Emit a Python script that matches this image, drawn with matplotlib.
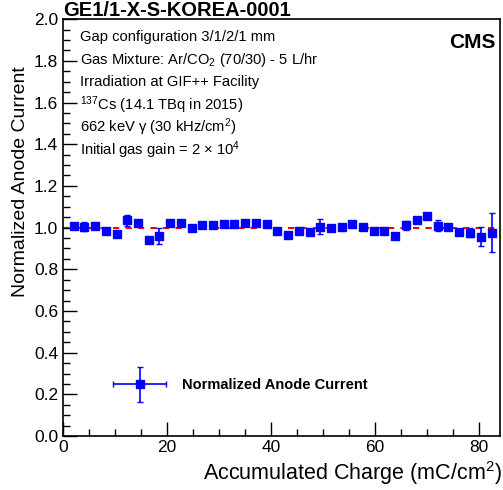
import numpy as np
import matplotlib
matplotlib.use("Agg")
import matplotlib.pyplot as plt
from matplotlib.ticker import MultipleLocator
from matplotlib.container import ErrorbarContainer
from matplotlib.legend_handler import HandlerErrorbar

plt.rcParams['font.family'] = ['Liberation Sans', 'DejaVu Sans']
plt.rcParams['mathtext.fontset'] = 'custom'
plt.rcParams['mathtext.rm'] = 'Liberation Sans'
plt.rcParams['mathtext.it'] = 'Liberation Sans:italic'
plt.rcParams['mathtext.bf'] = 'Liberation Sans:bold'

# accumulated charge (mC/cm2) and normalized current
charge = [2.2, 4.1, 6.2, 8.3, 10.4, 12.4, 14.4, 16.6, 18.5, 20.5,
          22.7, 24.8, 26.7, 28.8, 30.9, 32.9, 35.0, 37.1, 39.2, 41.1,
          43.2, 45.3, 47.4, 49.4, 51.5, 53.6, 55.5, 57.6, 59.7, 61.8,
          63.8, 65.9, 68.0, 69.9, 72.0, 74.1, 76.2, 78.2, 80.3, 82.4]
current = [1.010, 1.005, 1.010, 0.986, 0.970, 1.035, 1.020, 0.940, 0.960, 1.020,
           1.024, 1.000, 1.011, 1.011, 1.016, 1.016, 1.020, 1.024, 1.016, 0.982,
           0.966, 0.986, 0.981, 1.005, 1.000, 1.005, 1.016, 1.005, 0.986, 0.986,
           0.962, 1.011, 1.038, 1.058, 1.010, 1.005, 0.981, 0.976, 0.957, 0.976]
current_err = [0.006, 0.023, 0.006, 0.010, 0.008, 0.025, 0.006, 0.006, 0.038, 0.006,
               0.006, 0.006, 0.006, 0.006, 0.006, 0.010, 0.006, 0.006, 0.006, 0.006,
               0.006, 0.006, 0.006, 0.035, 0.006, 0.006, 0.006, 0.006, 0.006, 0.006,
               0.006, 0.022, 0.006, 0.006, 0.027, 0.006, 0.006, 0.020, 0.044, 0.095]

info_lines = [
    "Gap configuration 3/1/2/1 mm",
    "Gas Mixture: Ar/CO$_2$ (70/30) - 5 L/hr",
    "Irradiation at GIF++ Facility",
    "$^{137}$Cs (14.1 TBq in 2015)",
    "662 keV γ (30 kHz/cm$^2$)",
    "Initial gas gain = 2 $\\times$ 10$^4$",
]

fig = plt.figure(figsize=(5.03, 4.90), dpi=100)
ax = fig.add_axes([0.125, 0.110, 0.869, 0.851])

ax.axhline(1.0, color='red', ls=(0, (3, 3)), lw=1.5, zorder=1)
ax.errorbar(charge, current, yerr=current_err, xerr=np.zeros(len(charge)),
            fmt='s', color='blue', ecolor='blue', markersize=6,
            elinewidth=1.2, capsize=2,
            label='Normalized Anode Current', zorder=3)

ax.set_xlim(0, 84)
ax.set_ylim(0, 2.0)
ax.xaxis.set_major_locator(MultipleLocator(20))
ax.xaxis.set_minor_locator(MultipleLocator(5))
ax.yaxis.set_major_locator(MultipleLocator(0.2))
ax.yaxis.set_minor_locator(MultipleLocator(0.05))
ax.yaxis.set_major_formatter(plt.FormatStrFormatter('%.1f'))
ax.tick_params(which='both', direction='in', labelsize=12.5, width=1)
ax.tick_params(which='major', length=10)
ax.tick_params(which='minor', length=5)
ax.tick_params(axis='x', pad=3)
for s in ax.spines.values():
    s.set_linewidth(1.2)

fig.text(0.998, 0.035, "Accumulated Charge (mC/cm$^2$)", ha='right',
         va='center', fontsize=15.5)
fig.text(0.04, 0.63, "Normalized Anode Current", rotation=90, ha='center',
         va='center', fontsize=14)
fig.text(0.125, 0.978, "GE1/1-X-S-KOREA-0001", ha='left', va='center',
         fontsize=14.5, fontweight='bold')
ax.text(0.99, 0.945, "CMS", transform=ax.transAxes, ha='right', va='center',
        fontsize=15, fontweight='bold')

for i, line in enumerate(info_lines):
    ax.text(0.039, 0.957 - i * 0.0542, line, transform=ax.transAxes,
            ha='left', va='center', fontsize=10.6)

ax.legend(loc='center left', bbox_to_anchor=(0.112, 0.122), frameon=False,
          borderpad=0, borderaxespad=0, handlelength=3.8, handletextpad=1.0,
          handler_map={ErrorbarContainer: HandlerErrorbar(xerr_size=1.8, yerr_size=1.2)},
          prop={'weight': 'bold', 'size': 10.5})

fig.savefig("out.png", dpi=100)
